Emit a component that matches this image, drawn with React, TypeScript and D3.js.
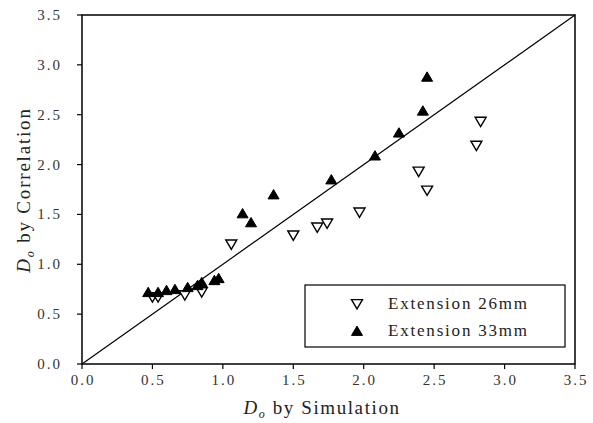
import React from "react";
import * as d3 from "d3";

const ticks = [0, 0.5, 1.0, 1.5, 2.0, 2.5, 3.0, 3.5];
const ext26: [number, number][] = [
  [0.5, 0.67], [0.54, 0.67], [0.73, 0.69], [0.85, 0.72],
  [1.06, 1.2], [1.5, 1.29], [1.67, 1.37], [1.74, 1.41], [1.97, 1.52],
  [2.39, 1.93], [2.45, 1.74], [2.8, 2.19], [2.83, 2.43],
];
const ext33: [number, number][] = [
  [0.47, 0.72], [0.54, 0.72], [0.6, 0.74], [0.66, 0.75], [0.75, 0.77],
  [0.82, 0.79], [0.85, 0.82], [0.94, 0.84], [0.97, 0.86],
  [1.14, 1.51], [1.2, 1.42], [1.36, 1.7], [1.77, 1.85],
  [2.08, 2.09], [2.25, 2.32], [2.42, 2.54], [2.45, 2.88],
];
const legendLabels = ["Extension 26mm", "Extension 33mm"];

const W = 593, H = 423;
const L = 82, R = 575, T = 15, B = 364;
const FONT = "'Liberation Serif', 'DejaVu Serif', serif";

export default function App() {
  const x = d3.scaleLinear().domain([0, 3.5]).range([L, R]);
  const y = d3.scaleLinear().domain([0, 3.5]).range([B, T]);
  const s = 5.5;
  const down = (cx: number, cy: number) =>
    `M${cx - s},${cy - s * 0.8}L${cx + s},${cy - s * 0.8}L${cx},${cy + s * 0.9}Z`;
  const up = (cx: number, cy: number) =>
    `M${cx - s},${cy + s * 0.8}L${cx + s},${cy + s * 0.8}L${cx},${cy - s * 0.9}Z`;
  return (
    <svg width={W} height={H} style={{ position: "absolute", left: 0, top: 0, background: "#fff" }}>
      <rect x={0} y={0} width={W} height={H} fill="#fff" />
      <rect x={L} y={T} width={R - L} height={B - T} fill="none" stroke="#000" strokeWidth={1.5} />
      <line x1={x(0)} y1={y(0)} x2={x(3.5)} y2={y(3.5)} stroke="#000" strokeWidth={1.2} />
      {ticks.map((t) => (
        <g key={"x" + t}>
          <line x1={x(t)} x2={x(t)} y1={B} y2={B + 5} stroke="#000" strokeWidth={1.2} />
          <text x={x(t) + 1} y={B + 21} textAnchor="middle" fontFamily={FONT} fontSize={15} letterSpacing={2} fill="#333">
            {t.toFixed(1)}
          </text>
          <line x1={L - 5} x2={L} y1={y(t)} y2={y(t)} stroke="#000" strokeWidth={1.2} />
          <text x={L - 20} y={y(t) + 5} textAnchor="end" fontFamily={FONT} fontSize={15} letterSpacing={2} fill="#333">
            {t.toFixed(1)}
          </text>
        </g>
      ))}
      {ext26.map(([a, b], i) => (
        <path key={"o" + i} d={down(x(a), y(b))} fill="#fff" stroke="#000" strokeWidth={1.4} />
      ))}
      {ext33.map(([a, b], i) => (
        <path key={"f" + i} d={up(x(a), y(b))} fill="#000" stroke="#000" strokeWidth={1} />
      ))}
      <rect x={305} y={285} width={260} height={62} fill="#fff" stroke="#000" strokeWidth={1.2} />
      <path d={down(357, 304)} fill="#fff" stroke="#000" strokeWidth={1.4} />
      <path d={up(357, 331)} fill="#000" stroke="#000" strokeWidth={1} />
      {legendLabels.map((l, i) => (
        <text key={l} x={388} y={309 + i * 27} fontFamily={FONT} fontSize={17} letterSpacing={1.8} fill="#222">
          {l}
        </text>
      ))}
      <text x={322} y={414} textAnchor="middle" fontFamily={FONT} fontSize={19} letterSpacing={1.6} fill="#222">
        <tspan fontStyle="italic">D</tspan>
        <tspan fontStyle="italic" fontSize={12} dy={4}>o</tspan>
        <tspan dy={-4}> by Simulation</tspan>
      </text>
      <text transform={`translate(30,${190}) rotate(-90)`} textAnchor="middle" fontFamily={FONT} fontSize={19} letterSpacing={1.8} fill="#222">
        <tspan fontStyle="italic">D</tspan>
        <tspan fontStyle="italic" fontSize={12} dy={4}>o</tspan>
        <tspan dy={-4}>  by Correlation</tspan>
      </text>
    </svg>
  );
}
